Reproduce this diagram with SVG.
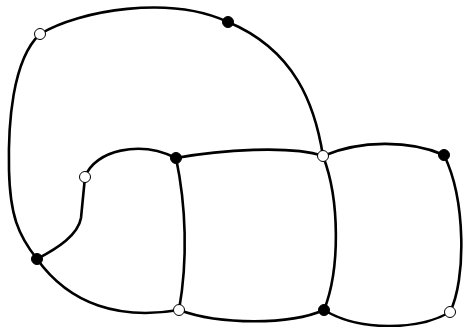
<svg xmlns="http://www.w3.org/2000/svg" width="463" height="327" viewBox="0 0 463 327">
<style>
.e{fill:none;stroke:#000;stroke-width:2.6;stroke-linecap:round}
.b{fill:#000;stroke:#000;stroke-width:1}
.w{fill:#fff;stroke:#000;stroke-width:1}
</style>
<rect width="463" height="327" fill="#fff"/>
<g id="edges">
<path class="e" d="M40,34 C80,10 170,-5 228,22"/>
<path class="e" d="M228,22 C295,50 315,105 323,156"/>
<path class="e" d="M40,34 C12,60 8,125 9,170 C10,215 18,235 37,259"/>
<path class="e" d="M37,259 C58,248 78,235 81,218 L85,177"/>
<path class="e" d="M85,177 C95,150 140,140 176,158"/>
<path class="e" d="M176,158 C220,150 290,145 323,156"/>
<path class="e" d="M176,158 C186,205 188,260 179,310"/>
<path class="e" d="M37,259 C70,305 120,320 179,310"/>
<path class="e" d="M179,310 C220,325 290,325 324,310"/>
<path class="e" d="M323,156 C340,200 340,270 324,310"/>
<path class="e" d="M323,156 C360,140 410,140 444,155"/>
<path class="e" d="M444,155 C466,200 466,280 450,312"/>
<path class="e" d="M324,310 C360,332 420,330 450,312"/>
</g>
<g id="n1"><circle class="w" cx="40" cy="34" r="5.5"/></g>
<g id="n2"><circle class="b" cx="228" cy="22" r="5.5"/></g>
<g id="n3"><circle class="b" cx="176" cy="158" r="5.5"/></g>
<g id="n4"><circle class="w" cx="85" cy="177" r="5.5"/></g>
<g id="n5"><circle class="w" cx="323" cy="156" r="5.5"/></g>
<g id="n6"><circle class="b" cx="444" cy="155" r="5.5"/></g>
<g id="n7"><circle class="b" cx="37" cy="259" r="5.5"/></g>
<g id="n8"><circle class="w" cx="179" cy="310" r="5.5"/></g>
<g id="n9"><circle class="b" cx="324" cy="310" r="5.5"/></g>
<g id="n10"><circle class="w" cx="450" cy="312" r="5.5"/></g>
</svg>
